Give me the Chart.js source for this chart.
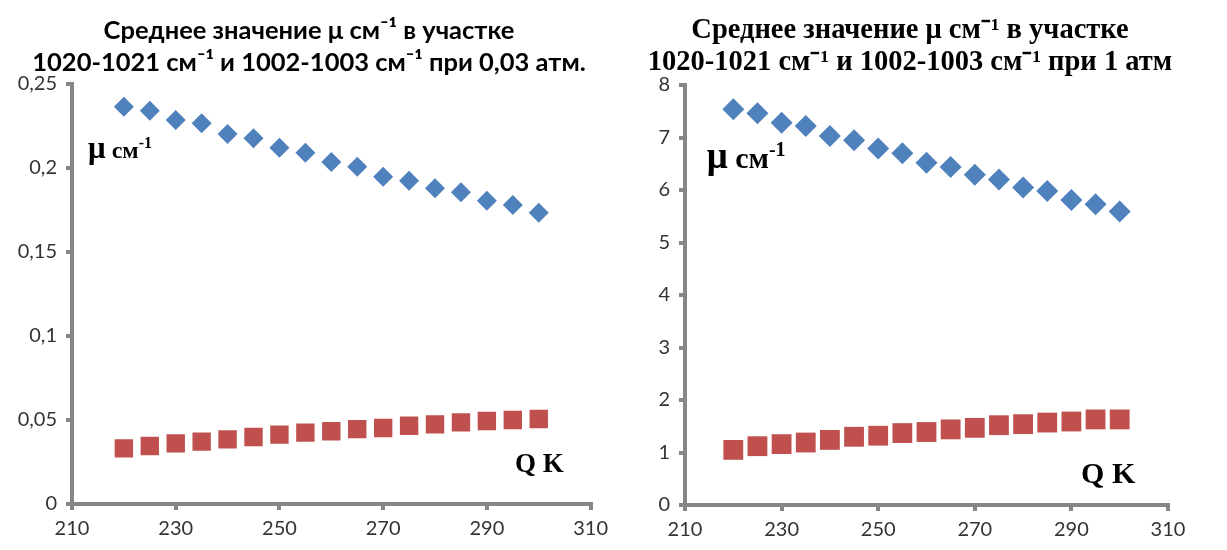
<!DOCTYPE html>
<html>
<head>
<meta charset="utf-8">
<script src="https://cdn.jsdelivr.net/npm/chart.js@4.4.0/dist/chart.umd.min.js"></script>
<style>
  body { margin: 0; background: #fff; width: 1227px; height: 550px; overflow: hidden; position: relative; }
  .box { position: absolute; top: 0; height: 550px; }
</style>
</head>
<body>
<div class="box" style="left:0;width:615px"><canvas id="lowChart"></canvas></div>
<div class="box" style="left:615px;width:612px"><canvas id="atmChart"></canvas></div>
<script>
// temperature, K
const temperatures = [220, 225, 230, 235, 240, 245, 250, 255, 260, 265, 270, 275, 280, 285, 290, 295, 300];

// 0,03 атм
const lowBlue = [0.2365, 0.2341, 0.2286, 0.2266, 0.2202, 0.2177, 0.2121, 0.2091, 0.2036, 0.2008, 0.1948, 0.1924, 0.1879, 0.1855, 0.1805, 0.1780, 0.1734];
const lowRed = [0.0331, 0.0345, 0.0361, 0.0371, 0.0385, 0.0399, 0.0413, 0.0425, 0.0433, 0.0446, 0.0452, 0.0466, 0.0474, 0.0486, 0.0494, 0.0500, 0.0506];

// 1 атм
const atmBlue = [7.54, 7.46, 7.28, 7.22, 7.03, 6.95, 6.79, 6.70, 6.52, 6.44, 6.29, 6.20, 6.05, 5.98, 5.81, 5.73, 5.59];
const atmRed = [1.05, 1.12, 1.16, 1.19, 1.24, 1.30, 1.32, 1.37, 1.39, 1.44, 1.47, 1.52, 1.54, 1.57, 1.59, 1.63, 1.63];

const xTickLabels = ['210', '230', '250', '270', '290', '310'];
const lowYLabels = ['0', '0,05', '0,1', '0,15', '0,2', '0,25'];
const atmYLabels = ['0', '1', '2', '3', '4', '5', '6', '7', '8'];

const lowTitle = ['Среднее значение μ см⁻¹ в участке', '1020-1021 см⁻¹ и 1002-1003 см⁻¹ при 0,03 атм.'];
const atmTitle = ['Среднее значение μ см⁻¹ в участке', '1020-1021 см⁻¹ и 1002-1003 см⁻¹ при 1 атм'];

const BLUE = '#4F81BD';
const RED = '#C0504D';
const AXIS = '#868686';

const toPoints = ys => ys.map((v, i) => ({ x: temperatures[i], y: v }));

// two-line title (the built-in one can't be centred off the plot) and
// the text labels inside the plot ("μ см-1", "Q K")
const notesPlugin = {
  id: 'notes',
  afterDraw(chart, args, opts) {
    const { ctx, scales: { x, y } } = chart;
    ctx.save();
    ctx.fillStyle = '#000';

    const t = opts.title;
    ctx.font = 'bold ' + t.size + 'px ' + t.family;
    ctx.textAlign = 'center';
    ctx.textBaseline = 'middle';
    t.lines.forEach((line, i) => ctx.fillText(line, t.cx, t.y[i]));

    ctx.textBaseline = 'alphabetic';
    ctx.textAlign = 'left';
    (opts.items || []).forEach(item => {
      let px = x.getPixelForValue(item.x);
      const py = y.getPixelForValue(item.y);
      item.parts.forEach(p => {
        ctx.font = 'bold ' + p.size + 'px "Liberation Serif", serif';
        ctx.fillText(p.text, px, py - (p.rise || 0));
        px += ctx.measureText(p.text).width;
      });
    });
    ctx.restore();
  }
};

function makeChart(id, cfg) {
  return new Chart(document.getElementById(id), {
    type: 'scatter',
    data: {
      datasets: [{
        data: toPoints(cfg.blue),
        pointStyle: 'rectRot',
        pointRadius: cfg.diamond,
        pointHoverRadius: cfg.diamond,
        backgroundColor: BLUE,
        borderColor: BLUE,
        borderWidth: 0
      }, {
        data: toPoints(cfg.red),
        pointStyle: 'rect',
        pointRadius: cfg.square,
        pointHoverRadius: cfg.square,
        backgroundColor: RED,
        borderColor: RED,
        borderWidth: 0
      }]
    },
    options: {
      responsive: true,
      maintainAspectRatio: false,
      animation: false,
      layout: { padding: { left: 0, right: cfg.padRight, top: cfg.padTop, bottom: 0 } },
      plugins: {
        legend: { display: false },
        tooltip: { enabled: false },
        title: { display: false },
        notes: { title: cfg.title, items: cfg.notes }
      },
      scales: {
        x: {
          type: 'linear',
          min: 210, max: 310,
          afterFit: s => { s.height = cfg.xHeight; },
          border: { color: AXIS, width: 4 },
          grid: { drawOnChartArea: false, drawTicks: true, tickLength: 6, color: AXIS, lineWidth: 4 },
          ticks: {
            stepSize: 20,
            padding: 7,
            color: '#333',
            font: { family: 'Lato', size: 20 },
            maxRotation: 0,
            callback: (v, i) => xTickLabels[i]
          }
        },
        y: {
          min: 0, max: cfg.yMax,
          afterFit: s => { s.width = cfg.yWidth; },
          border: { color: AXIS, width: 4 },
          grid: { drawOnChartArea: false, drawTicks: true, tickLength: 6, color: AXIS, lineWidth: 4 },
          ticks: {
            stepSize: cfg.yStep,
            padding: 9,
            color: '#333',
            font: { family: 'Lato', size: 20 },
            callback: (v, i) => cfg.yLabels[i]
          }
        }
      }
    },
    plugins: [notesPlugin]
  });
}

makeChart('lowChart', {
  blue: lowBlue, red: lowRed,
  diamond: 10, square: 13,
  yMax: 0.25, yStep: 0.05, yLabels: lowYLabels,
  yWidth: 72, xHeight: 46, padTop: 84, padRight: 23,
  title: { lines: lowTitle, family: 'Lato', size: 25.5, cx: 309, y: [31, 63] },
  notes: [
    { x: 213.1, y: 0.206, parts: [{ text: 'μ', size: 31 }, { text: ' см', size: 24 }, { text: '-1', size: 16, rise: 10 }] },
    { x: 295.4, y: 0.019, parts: [{ text: 'Q K', size: 27 }] }
  ]
});

makeChart('atmChart', {
  blue: atmBlue, red: atmRed,
  diamond: 11, square: 14,
  yMax: 8, yStep: 1, yLabels: atmYLabels,
  yWidth: 70, xHeight: 45, padTop: 85, padRight: 59,
  title: { lines: atmTitle, family: '"Liberation Serif"', size: 28.5, cx: 295, y: [31, 63] },
  notes: [
    { x: 214.5, y: 6.42, parts: [{ text: 'μ', size: 37 }, { text: ' см', size: 30 }, { text: '-1', size: 20, rise: 12 }] },
    { x: 292, y: 0.42, parts: [{ text: 'Q K', size: 30 }] }
  ]
});
</script>
</body>
</html>
